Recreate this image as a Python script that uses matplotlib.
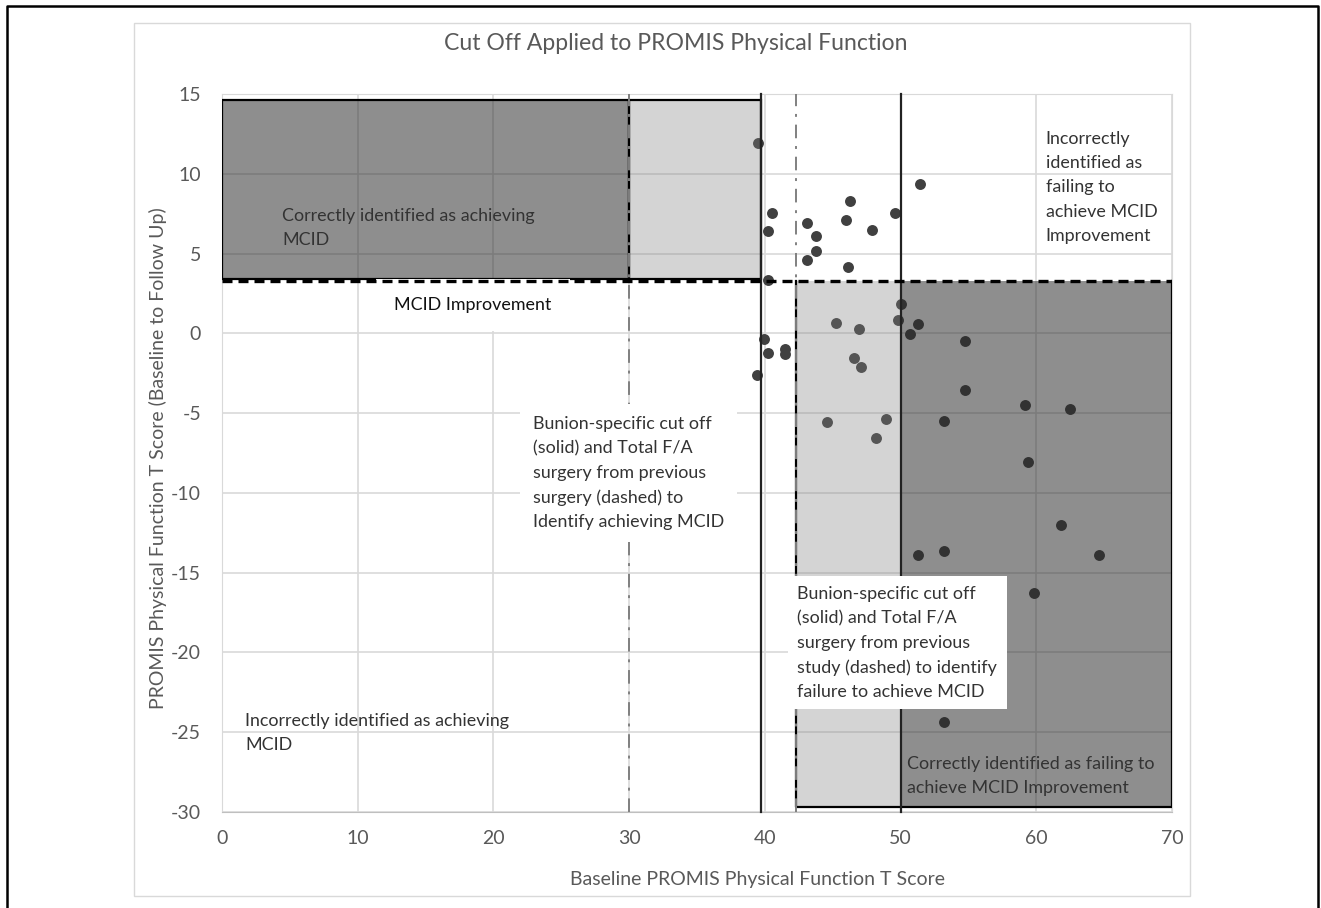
import numpy as np
import matplotlib.pyplot as plt
from matplotlib.patches import Rectangle
from matplotlib.lines import Line2D

plt.rcParams['font.family'] = ['Lato', 'DejaVu Sans']
plt.rcParams['axes.unicode_minus'] = False

# baseline T score and change (baseline to follow up)
baseline = [39.5, 51.4, 40.5, 40.2, 43.1, 43.75, 43.8, 43.1, 46.3, 46.0, 47.9, 46.1, 49.6, 40.2,
            50.06, 45.25, 46.9, 49.8, 51.3, 50.7, 54.75, 39.9, 40.2, 41.5, 41.5, 46.6, 47.1, 39.4,
            54.75, 59.2, 62.5, 44.6, 48.95, 53.2, 48.2, 59.4, 61.85, 51.3, 53.2, 64.65, 59.86, 53.2]
change = [11.9, 9.35, 7.56, 6.43, 6.91, 6.12, 5.16, 4.57, 8.27, 7.12, 6.47, 4.15, 7.56, 3.32,
          1.86, 0.63, 0.29, 0.83, 0.58, -0.02, -0.46, -0.35, -1.21, -0.98, -1.27, -1.55, -2.1, -2.59,
          -3.55, -4.47, -4.74, -5.58, -5.39, -5.51, -6.54, -8.06, -12.03, -13.9, -13.64, -13.9, -16.3, -24.35]

mcid = 3.3
cut_achieve_solid = 39.7
cut_achieve_dashed = 30
cut_fail_solid = 50
cut_fail_dashed = 42.3
y_top = 14.6
y_bottom = -29.7

fig = plt.figure(figsize=(13.21, 9.08), dpi=100)
ax = fig.add_axes([222/1321, 1-812/908, (1172-222)/1321, (812-94)/908])

ax.set_xlim(0, 70)
ax.set_ylim(-30, 15)
ax.set_xticks(np.arange(0, 71, 10))
ax.set_yticks(np.arange(-30, 16, 5))
ax.grid(True, color='#d9d9d9', lw=1.2, zorder=0)
ax.set_axisbelow(True)
for s in ax.spines.values():
    s.set_color('#d9d9d9')
ax.spines['bottom'].set_color('#bfbfbf')
ax.tick_params(length=0, labelsize=14, labelcolor='#595959')
ax.tick_params(axis='x', pad=13)
ax.tick_params(axis='y', pad=15)

ax.scatter(baseline, change, s=62, color='#404040', zorder=2, linewidths=0)

dark = (0.153, 0.153, 0.153, 0.52)
light = (0.5, 0.5, 0.5, 0.335)
# achieving region (top left)
ax.add_patch(Rectangle((0, mcid + 0.1), cut_achieve_dashed, y_top - mcid - 0.1, facecolor=dark, edgecolor='black', lw=1.6, zorder=3))
ax.add_patch(Rectangle((cut_achieve_dashed, mcid + 0.1), cut_achieve_solid - cut_achieve_dashed, y_top - mcid - 0.1, facecolor=light, edgecolor='black', lw=1.6, zorder=3))
# failing region (bottom right), top side left to the dashed MCID line
ax.add_patch(Rectangle((cut_fail_dashed, y_bottom), cut_fail_solid - cut_fail_dashed, mcid - y_bottom, facecolor=light, edgecolor='none', zorder=3))
ax.add_patch(Rectangle((cut_fail_solid, y_bottom), 70 - cut_fail_solid, mcid - y_bottom, facecolor=dark, edgecolor='none', zorder=3))
ax.plot([cut_fail_dashed, cut_fail_dashed, 70, 70], [mcid, y_bottom, y_bottom, mcid], color='black', lw=1.6, zorder=3.5)

ax.axhline(mcid, color='black', lw=2.4, ls=(0, (3, 1.8)), zorder=7)
ax.axvline(cut_achieve_solid, color='#222222', lw=1.6, zorder=4, clip_on=False)
ax.axvline(cut_fail_solid, color='#222222', lw=1.6, zorder=4, clip_on=False)
ax.axvline(cut_achieve_dashed, color='#808080', lw=1.4, ls=(0, (7, 4, 1.5, 4)), zorder=4)
ax.axvline(cut_fail_dashed, color='#808080', lw=1.4, ls=(0, (7, 4, 1.5, 4)), zorder=4)

tc = '#333333'
fs = 12.9
ls = 1.62
ax.text(4.42, 7.83, 'Correctly identified as achieving\nMCID', fontsize=fs, color=tc, va='top', ha='left', linespacing=ls, zorder=5)
ax.text(18.5, 1.75, 'MCID Improvement', fontsize=fs, color='#111111', ha='center', va='center', zorder=5,
        bbox=dict(facecolor='white', edgecolor='none', boxstyle='square,pad=1.0'))
ax.text(60.7, 12.66, 'Incorrectly\nidentified as\nfailing to\nachieve MCID\nImprovement', fontsize=fs, color=tc, va='top', ha='left', linespacing=ls, zorder=5)
ax.text(22.9, -5.2, 'Bunion-specific cut off\n(solid) and Total F/A\nsurgery from previous\nsurgery (dashed) to\nIdentify achieving MCID',
        fontsize=fs, color=tc, va='top', ha='left', linespacing=ls, zorder=5,
        bbox=dict(facecolor='white', edgecolor='none', boxstyle='square,pad=0.7'))
ax.text(42.4, -15.85, 'Bunion-specific cut off\n(solid) and Total F/A\nsurgery from previous\nstudy (dashed) to identify\nfailure to achieve MCID',
        fontsize=fs, color=tc, va='top', ha='left', linespacing=ls, zorder=5,
        bbox=dict(facecolor='white', edgecolor='none', boxstyle='square,pad=0.55'))
ax.text(1.7, -23.8, 'Incorrectly identified as achieving\nMCID', fontsize=fs, color=tc, va='top', ha='left', linespacing=ls, zorder=5)
ax.text(50.5, -26.5, 'Correctly identified as failing to\nachieve MCID Improvement', fontsize=fs, color=tc, va='top', ha='left', linespacing=ls, zorder=5)

fig.text(676/1321, 1-44/908, 'Cut Off Applied to PROMIS Physical Function', fontsize=16.6, color='#595959', ha='center', va='center')
fig.text(758/1321, 1-880/908, 'Baseline PROMIS Physical Function T Score', fontsize=14, color='#595959', ha='center', va='center')
fig.text(158/1321, 1-458/908, 'PROMIS Physical Function T Score (Baseline to Follow Up)', fontsize=14, color='#595959', ha='center', va='center', rotation=90)

# chart area border and outer frame
fig.add_artist(Rectangle((134/1321, 1-896/908), (1190-134)/1321, (896-23)/908, transform=fig.transFigure, fill=False, edgecolor='#d9d9d9', lw=1))
fig.add_artist(Line2D([7/1321, 7/1321, 1318/1321, 1318/1321], [0, 1-6/908, 1-6/908, 0], transform=fig.transFigure, color='black', lw=1.8))

fig.savefig('out.png', dpi=100)
